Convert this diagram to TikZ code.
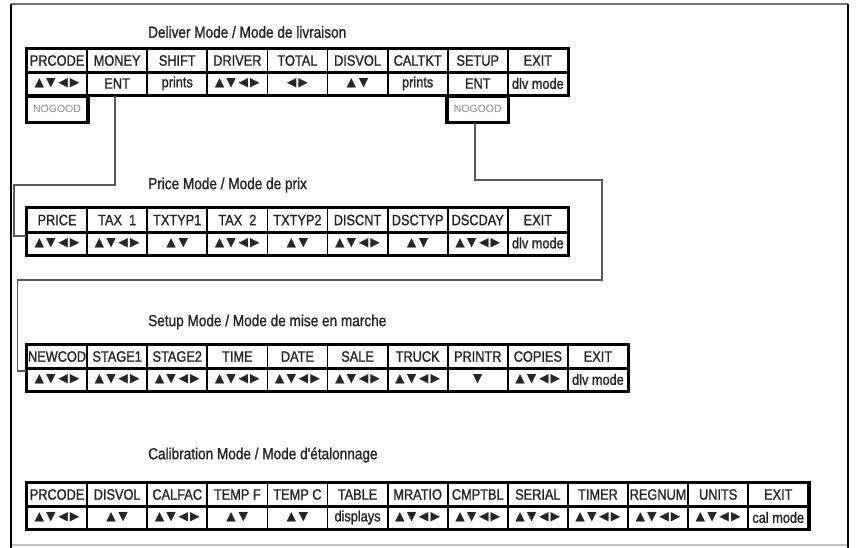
\documentclass[tikz,border=0pt]{standalone}
\usepackage{fontspec}
\setmainfont{Liberation Sans}
\newfontfamily\hdr{Liberation Sans}[FakeStretch=0.85, FakeBold=1.2]
\newfontfamily\sym{DejaVu Sans}
\newcommand\fourA{{\sym\fontsize{12.5}{14}\selectfont ▲\hspace{2pt}▼\hspace{2.5pt}◀\hspace{2pt}▶}}
\newcommand\udA{{\sym\fontsize{12.5}{14}\selectfont ▲\hspace{2.5pt}▼}}
\newcommand\lrA{{\sym\fontsize{12.5}{14}\selectfont ◀\hspace{2pt}▶}}
\newcommand\dnA{{\sym\fontsize{12.5}{14}\selectfont ▼}}
\newcommand\modetab[5]{% prefix, x0, ytop, ncols, list
  \foreach \h/\v [count=\i] in {#5} {
    \node[hcell] (#1h\i) at ({#2+(\i-0.5)*60.1}, {#3+11.5}) {\h};
    \node[vcell] (#1v\i) at ({#2+(\i-0.5)*60.1}, {#3+34.5}) {\v};
  }
  \draw[outer] (#1h1.north west) rectangle (#1v#4.south east);
  \draw[outer] (#1h1.south west) -- (#1h#4.south east);
}
\tikzset{
  cellbase/.style={draw, line width=1.8pt, minimum width=60.1pt, minimum height=23pt, inner sep=0pt, anchor=center},
  hcell/.style={cellbase, font=\hdr\fontsize{15}{16}\selectfont, text=black!85},
  vcell/.style={cellbase, font=\hdr\fontsize{15}{16}\selectfont, text=black!85},
  ngcell/.style={draw, line width=1.8pt, minimum width=60.1pt, minimum height=25pt, inner sep=0pt, text=black!45, font=\fontsize{10.5}{12}\selectfont},
  outer/.style={line width=3pt, line join=miter},
  title/.style={anchor=west, inner sep=0pt, font=\hdr\fontsize{16}{18}\selectfont, text=black!85},
  conn/.style={draw=black!65, line width=1.8pt},
}
\begin{document}
\begin{tikzpicture}[x=1pt, y=-1pt]
\useasboundingbox (0,0) rectangle (856,548);
\fill[white] (0,0) rectangle (856,548);
% frame
\draw[black!55, line width=1.5pt] (11,4) -- (848,4);
\draw[black!25, line width=1.2pt] (11,545) -- (848,545);
\draw[black, line width=2.5pt] (11,4) -- (11,548);
\draw[black, line width=2.5pt] (848,4) -- (848,548);

% titles
\node[title] (t1) at (148,32) {Deliver Mode / Mode de livraison};
\node[title] (t2) at (148,185) {Price Mode / Mode de prix};
\node[title] (t3) at (148,322) {Setup Mode / Mode de mise en marche};
\node[title] (t4) at (148,455) {Calibration Mode / Mode d'étalonnage};

% Deliver
\modetab{d}{27}{49}{9}{PRCODE/\fourA, MONEY/ENT, SHIFT/prints, DRIVER/\fourA, TOTAL/\lrA, DISVOL/\udA, CALTKT/prints, SETUP/ENT, EXIT/dlv mode}
\node[ngcell, anchor=north] (dn1) at (dv1.south) {NOGOOD};
\node[ngcell, anchor=north] (dn8) at (dv8.south) {NOGOOD};
\draw[outer] (dn1.north west) rectangle (dn1.south east);
\draw[outer] (dn8.north west) rectangle (dn8.south east);

% Price
\modetab{p}{27}{208.5}{9}{PRICE/\fourA, TAX\ \ 1/\fourA, TXTYP1/\udA, TAX\ \ 2/\fourA, TXTYP2/\udA, DISCNT/\fourA, DSCTYP/\udA, DSCDAY/\fourA, EXIT/dlv mode}

% Setup
\modetab{s}{27}{345}{10}{NEWCOD/\fourA, STAGE1/\fourA, STAGE2/\fourA, TIME/\fourA, DATE/\fourA, SALE/\fourA, TRUCK/\fourA, PRINTR/\dnA, COPIES/\fourA, EXIT/dlv mode}

% Calibration
\modetab{c}{27}{483}{13}{PRCODE/\fourA, DISVOL/\udA, CALFAC/\fourA, TEMP F/\udA, TEMP C/\udA, TABLE/displays, MRATIO/\fourA, CMPTBL/\fourA, SERIAL/\fourA, TIMER/\fourA, REGNUM/\fourA, UNITS/\fourA, EXIT/cal mode}

% connectors
\coordinate (k1) at (115,185);
\coordinate (k2) at (14,185);
\coordinate (k3) at (14,236);
\draw[conn] (dv2.south -| k1) -- (k1) -- (k2) -- (k3) -- (k3 -| ph1.west);

\coordinate (m1) at (475,180);
\coordinate (m2) at (602,180);
\coordinate (m3) at (602,280);
\coordinate (m4) at (17.5,280);
\coordinate (m5) at (17.5,371);
\draw[conn] (dn8.south -| m1) -- (m1) -- (m2) -- (m3) -- (m4) -- (m5) -- (m5 -| sh1.west);
\end{tikzpicture}
\end{document}
